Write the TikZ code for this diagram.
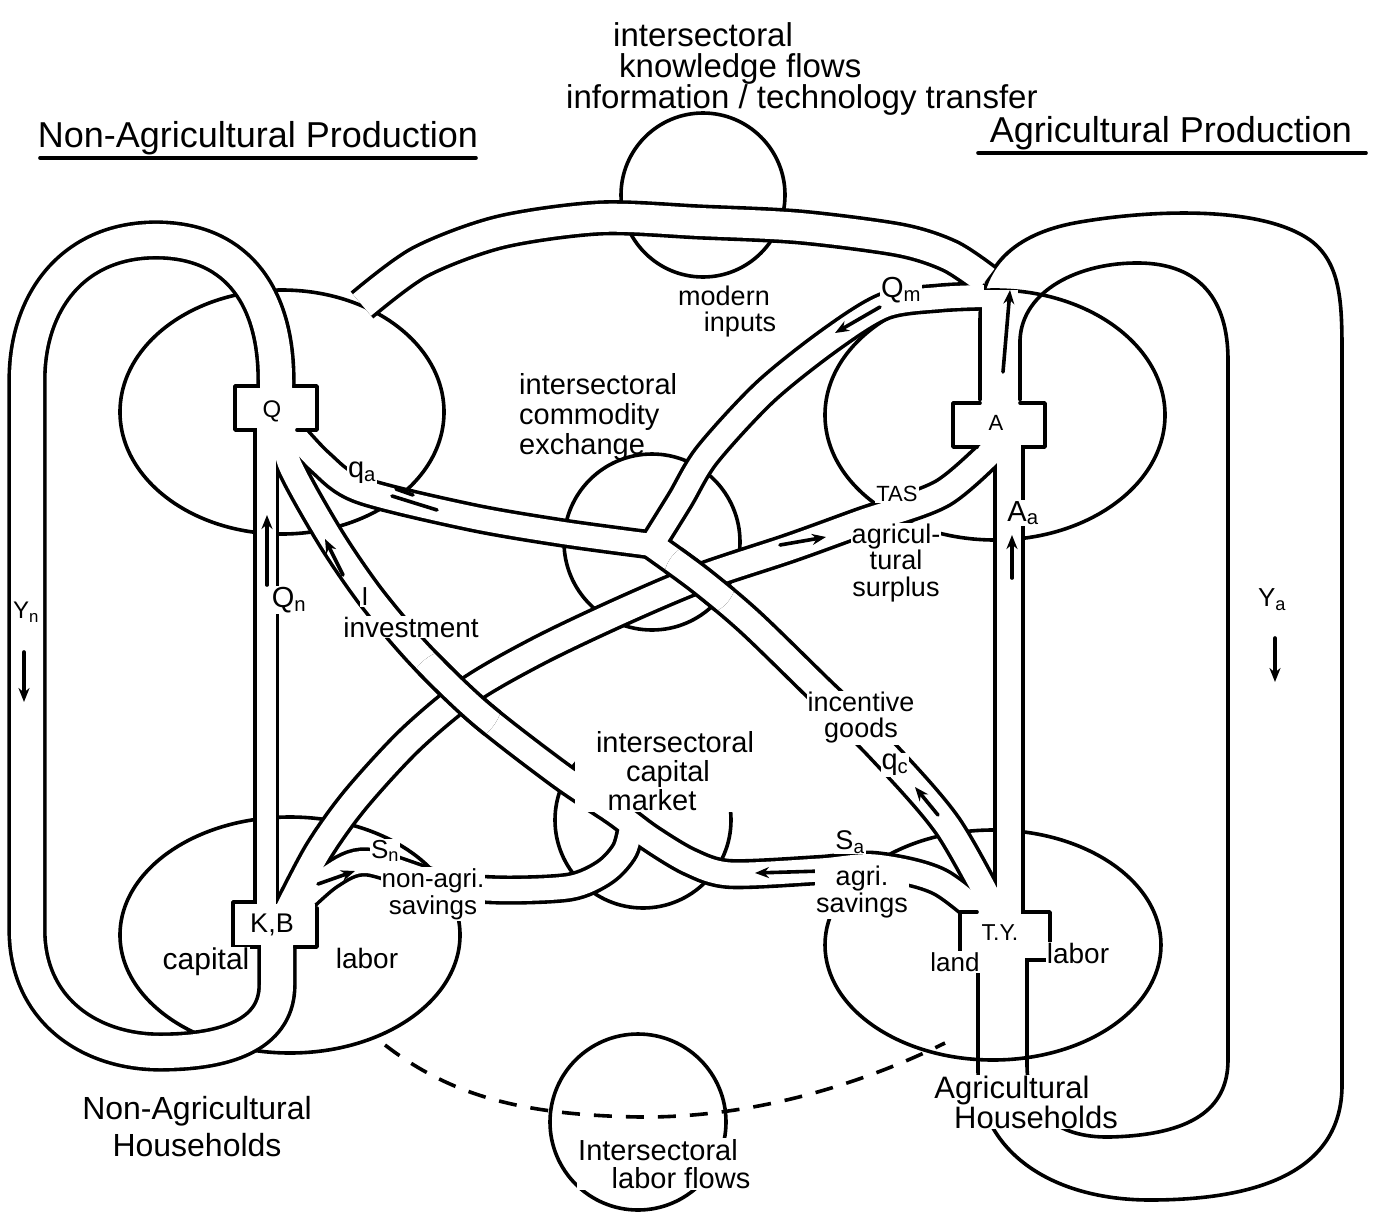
\documentclass[tikz,border=0pt]{standalone}
\usepackage{fontspec}
\setmainfont{Liberation Sans}
\usetikzlibrary{arrows.meta}
\begin{document}
\def\bdYn{(276,412) -- (276,380) .. controls (276,300) and (240,242) .. (160,240) .. controls (75,238) and (27,300) .. (27,380) -- (27,930) .. controls (27,1010) and (90,1052) .. (160,1052) .. controls (235,1052) and (277,1030) .. (277,985) -- (277,925)}
\def\bdQn{(266,412) -- (266,925)}
\def\bdqa{plot[smooth] coordinates {(286,425) (320,462) (360,490) (470,517) (563,533) (652,545)}}
\def\bdQm{plot[smooth] coordinates {(652,545) (680,500) (707,455) (765,392) (830,340) (885,306) (940,298) (984,296)}}
\def\bdInc{plot[smooth] coordinates {(652,545) (700,580) (750,622) (820,690) (877,745) (947,825) (1000,920)}}
\def\bdInv{plot[smooth] coordinates {(282,425) (290,465) (330,537) (371,597) (420,655) (480,713) (560,775) (615,812) (650,838) (690,862) (730,874) (820,870) (875,866) (940,882) (1000,930)}}
\def\bdSn{plot[smooth] coordinates {(632,822) (625,850) (605,872) (570,887) (500,890) (440,884) (367,862) (330,876) (292,910)}}
\def\bdTAS{plot[smooth] coordinates {(285,915) (318,852) (355,800) (410,740) (470,690) (540,650) (620,612) (700,578) (790,548) (862,522) (943,493) (1003,440)}}
\def\bdTop{plot[smooth] coordinates {(362,305) (420,262) (500,232) (600,218) (700,222) (800,227) (900,240) (950,256) (986,280)}}
\def\bdAa{(1009,440) -- (1009,925)}
\begin{tikzpicture}[x=1pt,y=-1pt,
  ln/.style={line width=3.6pt, line cap=round, line join=round},
  bo/.style={line width=#1pt+7.2pt, black},
  bi/.style={line width=#1pt, white},
  lbl/.style={font=\fontsize{29}{31}\selectfont, inner sep=1pt},
  lblw/.style={lbl, fill=white},
  fs/.style={font=\fontsize{#1}{#1}\selectfont},
  fsb/.style 2 args={font=\fontsize{#1}{#2}\selectfont},
  ttl/.style={font=\fontsize{36}{40}\selectfont, inner sep=1pt},
  arr/.style={ln, -{Stealth[length=14pt,width=11pt]}},
  dsh/.style={line width=3.6pt, dash pattern=on 18pt off 14pt},
]
\useasboundingbox (0,0) rectangle (1382,1224);
\fill[white] (0,0) rectangle (1382,1224);
% regions
\draw[ln] (282,412) ellipse [x radius=162, y radius=122];
\draw[ln] (995,415) ellipse [x radius=170, y radius=125];
\draw[ln] (290,935) ellipse [x radius=170, y radius=118];
\draw[ln] (993,945) ellipse [x radius=168, y radius=115];
% intersectoral circles
\draw[ln] (703,195) circle [radius=82];
\draw[ln] (652,542) circle [radius=88];
\draw[ln] (643,820) circle [radius=88];
\draw[ln] (638,1122) circle [radius=88];
\draw[dsh] (385,1045) .. controls (450,1095) and (520,1115) .. (640,1117) .. controls (760,1118) and (870,1080) .. (945,1043);
% Ya loop
\draw[ln] (980,400) -- (980,320) .. controls (980,262) and (1020,232) .. (1080,222) .. controls (1150,210) and (1260,205) .. (1310,240) .. controls (1340,262) and (1342,300) .. (1342,350) -- (1342,1085) .. controls (1342,1165) and (1270,1200) .. (1150,1200) .. controls (1050,1200) and (978,1150) .. (978,1070) -- (978,958);
\draw[ln] (1020,400) -- (1020,340) .. controls (1022,290) and (1080,262) .. (1140,263) .. controls (1200,264) and (1228,300) .. (1228,360) -- (1228,1060) .. controls (1228,1110) and (1190,1135) .. (1110,1137) .. controls (1055,1138) and (1027,1110) .. (1027,1065) -- (1027,958);
% bands: outer pass
\draw[bo=32] \bdYn;
\draw[bo=19] \bdQn;
\draw[bo=22] \bdqa;
\draw[bo=22] \bdQm;
\draw[bo=24] \bdInc;
\draw[bo=23] \bdInv;
\draw[bo=22] \bdSn;
\draw[bo=24] \bdTAS;
\draw[bo=28] \bdTop;
\draw[bo=24] \bdAa;
% bands: inner pass
\draw[bi=32] \bdYn;
\draw[bi=19] \bdQn;
\draw[bi=22] \bdqa;
\draw[bi=22] \bdQm;
\draw[bi=24] \bdInc;
\draw[bi=23] \bdInv;
\draw[bi=22] \bdSn;
\draw[bi=24] \bdTAS;
\draw[bi=28] \bdTop;
\draw[bi=24] \bdAa;
% crossings
\begin{scope}
  \clip (455,697) circle [radius=48];
  \draw[bo=23] \bdInv; \draw[bi=23] \bdInv;
\end{scope}
\begin{scope}
  \clip (700,579) circle [radius=36];
  \draw[bo=24] \bdInc; \draw[bi=24] \bdInc;
\end{scope}
% A stem interior
\fill[white] (982,290) rectangle (1018,400);
% cross boxes
\fill[white] (237,388) rectangle (315,428);
\draw[ln] (258,386) -- (235,386) -- (235,430) -- (255,430);
\draw[ln] (294,386) -- (317,386) -- (317,430) -- (297,430);
\fill[white] (235,904) rectangle (315,945);
\draw[ln] (255,902) -- (233,902) -- (233,947) -- (259,947);
\draw[ln] (317,908) -- (317,947) -- (295,947);
\fill[white] (955,405) rectangle (1043,445);
\draw[ln] (980,403) -- (953,403) -- (953,447) -- (977,447);
\draw[ln] (1020,403) -- (1045,403) -- (1045,447) -- (1023,447);
\fill[white] (962,914) rectangle (1048,958);
\draw[ln] (977,912) -- (960,912) -- (960,960) -- (978,960);
\draw[ln] (1023,912) -- (1050,912) -- (1050,960) -- (1027,960);
% arrows
\draw[arr] (267,585) -- (267,515);
\draw[arr] (1012,578) -- (1012,535);
\draw[arr] (24,652) -- (24,702);
\draw[arr] (1275,638) -- (1275,682);
\draw[arr] (1003,372) -- (1010,290);
\draw[arr] (343,575) -- (325,539);
\draw[arr] (880,307) -- (835,333);
\draw[arr] (938,815) -- (915,787);
\draw[arr] (780,545) -- (826,537);
\draw[arr] (822,871) -- (755,873);
\draw[arr] (318,884) -- (355,871);
\draw[ln] (437,510) -- (392,496);
\draw[ln] (396,489) -- (413,495);
% titles
\node[ttl] (tNA) at (258,138) {Non-Agricultural Production};
\draw[ln] (40,158) -- (476,158);
\node[ttl] (tA) at (1171,133) {Agricultural Production};
\draw[ln] (978,153) -- (1366,153);
% top texts
\node[lbl, fsb={33}{31}, align=left, anchor=west] (kf) at (565,69) {\hspace*{47pt}intersectoral\\\hspace*{53pt}knowledge flows\\information / technology transfer};
\node[lbl, fsb={27}{26}, align=center] (mi) at (724,312) {modern\\\hspace*{32pt}inputs};
\node[lbl, fsb={29}{30}, align=left, anchor=north west] (ce) at (518,372) {intersectoral\\commodity\\exchange};
% labels on bands
\node[lblw] (qa) at (362,473) {q\textsubscript{a}};
\node[lblw] (qm) at (901,290) {Q\textsubscript{m}};
\node[lblw, fs=22] (tas) at (897,494) {TAS};
\node[lblw, fsb={27}{26.5}, align=center] (as) at (896,563) {agricul-\\tural\\surplus};
\node[lblw, fs=26] (inv1) at (365,597) {I};
\node[lblw, fs=28] (inv2) at (411,627) {investment};
\node[lblw, fsb={27}{26}, align=center] (ig) at (861,718) {incentive\\goods};
\node[lblw] (qc) at (895,765) {q\textsubscript{c}};
\node[lblw, fsb={29}{29}, align=center] (cm) at (665,771) {\hspace*{20pt}intersectoral\\\hspace*{6pt}capital\\market\hspace*{26pt}};
\node[lblw, fs=26] (sn1) at (385,851) {S\textsubscript{n}};
\node[lblw, fsb={26}{27}, align=center] (sn) at (433,894) {non-agri.\\savings};
\node[lblw, fs=27] (sa1) at (850,842) {S\textsubscript{a}};
\node[lblw, fsb={27}{25}, align=center] (sa) at (862,892) {agri.\\savings};
\node[lblw] (qn) at (289,600) {Q\textsubscript{n}};
\node[lblw] (aa) at (1023,513) {A\textsubscript{a}};
\node[lbl, fs=24] (yn) at (26,612) {Y\textsubscript{n}};
\node[lbl, fs=26] (ya) at (1272,600) {Y\textsubscript{a}};
% box labels
\node[lbl, fs=24] (Q) at (272,411) {Q};
\node[lbl, fs=22] (A) at (996,423) {A};
\node[lbl, fs=27] (KB) at (272,925) {K,B};
\node[lbl, fs=23] (TY) at (1000,933) {T.Y.};
\node[lblw, fs=30] (cap) at (206,962) {capital};
\node[lbl, fs=28] (lab1) at (367,958) {labor};
\node[lblw, fs=26] (land) at (955,962) {land};
\node[lblw, fs=28] (lab2) at (1078,953) {labor};
% household texts
\node[lbl, fsb={32}{37}, align=center] (nh) at (197,1127) {Non-Agricultural\\Households};
\node[lblw, fsb={31}{30}, align=center] (ah) at (1024,1102) {Agricultural\hspace*{24pt}\\\hspace*{24pt}Households};
\node[lblw, fsb={29}{28}, align=center] (lf) at (670,1164) {Intersectoral\hspace*{24pt}\\\hspace*{22pt}labor flows};
\end{tikzpicture}
\end{document}
